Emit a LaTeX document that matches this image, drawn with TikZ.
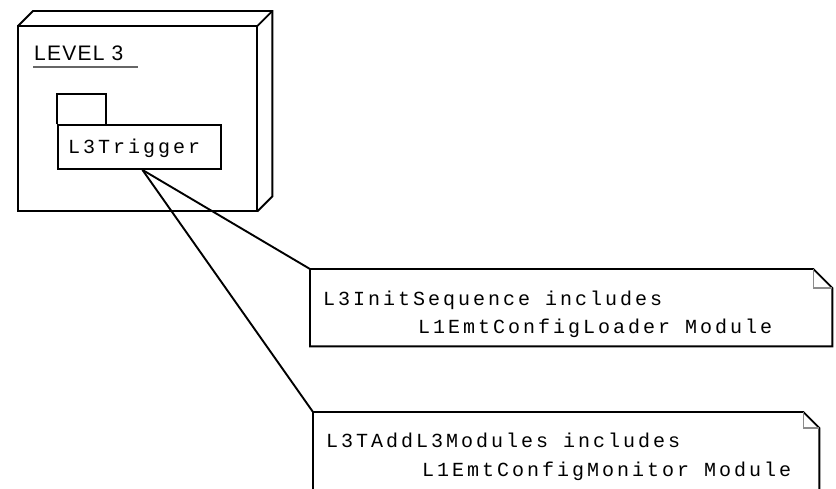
\documentclass[tikz,border=0pt]{standalone}
\usepackage{fontspec}
\newfontfamily\umlmono[LetterSpace=15]{Liberation Mono}
\newfontfamily\umlsans[LetterSpace=6]{Liberation Sans}
\usetikzlibrary{calc}
\tikzset{
  edge/.style={draw=black, line width=1.9pt},
  monotext/.style={font=\umlmono\fontsize{20}{28}\selectfont, inner sep=0pt},
  foldline/.style={draw=black!45, line width=1.4pt},
  area/.style={draw=none, inner sep=0pt, anchor=north west}
}
\begin{document}
\begin{tikzpicture}[x=1pt, y=-1pt, line join=miter]
\useasboundingbox (0,0) rectangle (836,488);
\clip (0,0) rectangle (836,488);

% 3D node "LEVEL 3"
\node[area, minimum width=239pt, minimum height=185pt] (lvl) at (18,26) {};
\draw[edge] (lvl.north west) rectangle (lvl.south east);
\draw[edge] (lvl.north west) -- ++(15,-15) -- ($(lvl.north east)+(15,-15)$)
  -- ($(lvl.south east)+(15,-15)$) -- (lvl.south east);
\draw[edge] (lvl.north east) -- ++(15,-15);
\node[inner sep=0pt, anchor=base west, font=\umlsans\fontsize{21}{24}\selectfont] (lvlname) at (34,60) {LEVEL 3};
\draw[draw=black!60, line width=1.8pt] (33,67) -- (138,67);

% package L3Trigger
\node[area, draw, line width=1.9pt, minimum width=163pt, minimum height=44pt] (pkg) at (57,124) {};
\node[monotext, anchor=base west] (pkgname) at (68,153) {L3Trigger};
\node[area, minimum width=49pt, minimum height=30pt] (tab) at (57,94) {};
\draw[edge] (tab.south west) -- (tab.north west) -- (tab.north east) -- (tab.south east);

% note 1
\node[area, minimum width=522pt, minimum height=77pt] (n1) at (310,269) {};
\draw[edge] (n1.north west) -- ($(n1.north east)+(-19,0)$) -- ($(n1.north east)+(0,19)$)
  -- (n1.south east) -- (n1.south west) -- cycle;
\draw[foldline] ($(n1.north east)+(-19,0)$) -- ++(0,19) -- ($(n1.north east)+(0,19)$);
\node[monotext, anchor=base west] (n1a) at (323,305) {L3InitSequence includes};
\node[monotext, anchor=base west] (n1b) at (418,333) {L1EmtConfigLoader Module};

% note 2 (runs past the lower edge)
\node[area, minimum width=506pt, minimum height=90pt] (n2) at (313,412) {};
\draw[edge] (n2.north west) -- ($(n2.north east)+(-16,0)$) -- ($(n2.north east)+(0,16)$)
  -- (n2.south east) -- (n2.south west) -- cycle;
\draw[foldline] ($(n2.north east)+(-16,0)$) -- ++(0,16) -- ($(n2.north east)+(0,16)$);
\node[monotext, anchor=base west] (n2a) at (326,447) {L3TAddL3Modules includes};
\node[monotext, anchor=base west] (n2b) at (422,476) {L1EmtConfigMonitor Module};

% connectors from the package to the notes
\coordinate (src) at ($(pkg.south)+(3,0)$);
\draw[edge] (src) -- (n1.north west);
\draw[edge] (src) -- (n2.north west);
\end{tikzpicture}
\end{document}
